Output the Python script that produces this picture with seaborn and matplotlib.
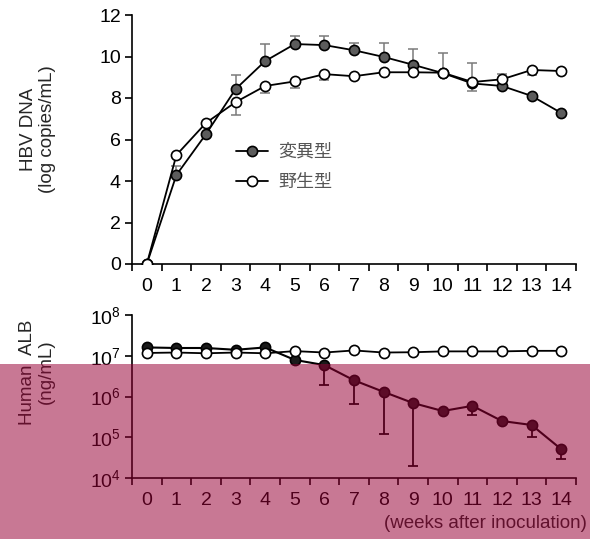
import numpy as np
import pandas as pd
import matplotlib
matplotlib.use("Agg")
import matplotlib.pyplot as plt
import seaborn as sns
from matplotlib.lines import Line2D
from matplotlib.patches import Rectangle
from matplotlib.ticker import NullLocator, FixedLocator

# ---------------- data ----------------
weeks = list(range(15))
series_names = ["変異型", "野生型"]

hbv_mut = [0.0, 4.29, 6.26, 8.43, 9.78, 10.6, 10.55, 10.3, 9.98, 9.6, 9.2, 8.7, 8.58, 8.1, 7.28]
hbv_mut_err = [0, 0.45, 0, 0.67, 0.8, 0.4, 0.45, 0.35, 0.67, 0.76, 0.95, 1.0, 0.6, 0, 0]
hbv_wt = [0.0, 5.25, 6.8, 7.8, 8.58, 8.8, 9.15, 9.05, 9.24, 9.24, 9.22, 8.77, 8.9, 9.35, 9.3]
hbv_wt_err = [0, 0, 0, 0.6, 0.35, 0.3, 0.3, 0, 0, 0, 0, 0.45, 0, 0.25, 0]

alb_mut = [1.6e7, 1.55e7, 1.55e7, 1.4e7, 1.6e7, 7.9e6, 5.9e6, 2.5e6, 1.3e6, 6.9e5, 4.4e5, 5.9e5, 2.5e5, 2.0e5, 5.1e4]
alb_mut_low = [1.6e7, 1.55e7, 1.55e7, 1.4e7, 1.6e7, 7.9e6, 1.9e6, 6.6e5, 1.2e5, 2.0e4, 4.4e5, 3.5e5, 2.5e5, 1.0e5, 2.9e4]
alb_wt = [1.17e7, 1.2e7, 1.15e7, 1.2e7, 1.15e7, 1.3e7, 1.2e7, 1.35e7, 1.2e7, 1.22e7, 1.28e7, 1.28e7, 1.28e7, 1.32e7, 1.32e7]

x_label = "(weeks after inoculation)"
top_ylabel = "HBV DNA\n(log copies/mL)"
bot_ylabel = "Human  ALB\n(ng/mL)"

# ---------------- style ----------------
sns.set_theme(style="ticks")
plt.rcParams["font.family"] = ["Liberation Sans", "Noto Sans CJK JP", "DejaVu Sans"]
plt.rcParams["font.size"] = 13
plt.rcParams["axes.linewidth"] = 1.2
plt.rcParams["xtick.major.width"] = 1.2
plt.rcParams["ytick.major.width"] = 1.2

W, H = 590, 539
fig = plt.figure(figsize=(W / 100, H / 100), dpi=100)
fig.patch.set_facecolor("white")

def px_axes(l, r, t, b):
    return fig.add_axes([l / W, 1 - b / H, (r - l) / W, (b - t) / H])

ax1 = px_axes(132, 576, 15, 264)
ax2 = px_axes(132, 576, 315, 478)

df_top = pd.DataFrame({
    "week": weeks * 2,
    "val": hbv_mut + hbv_wt,
    "grp": [series_names[0]] * 15 + [series_names[1]] * 15,
})
df_bot = pd.DataFrame({
    "week": weeks * 2,
    "val": alb_mut + alb_wt,
    "grp": [series_names[0]] * 15 + [series_names[1]] * 15,
})

mut_fill_top = "#5c5c5c"
mut_fill_bot = "#1a1a1a"
ms = 7.3
mew = 1.2
lw = 1.3
tick_fs = 14
text_fs = 13.5

# ---- top panel ----
ax1.errorbar(weeks, hbv_mut, yerr=[np.zeros(15), hbv_mut_err], fmt="none",
             ecolor="#7a7a7a", elinewidth=1.1, capsize=3.5, capthick=1.1, zorder=1)
ax1.errorbar(weeks, hbv_wt, yerr=[hbv_wt_err, np.zeros(15)], fmt="none",
             ecolor="#7a7a7a", elinewidth=1.1, capsize=3.5, capthick=1.1, zorder=1)
sns.lineplot(data=df_top[df_top.grp == series_names[0]], x="week", y="val", ax=ax1,
             color="black", lw=lw, marker="o", markersize=ms, markerfacecolor=mut_fill_top,
             markeredgecolor="black", markeredgewidth=mew, zorder=3, legend=False)
sns.lineplot(data=df_top[df_top.grp == series_names[1]], x="week", y="val", ax=ax1,
             color="black", lw=lw, marker="o", markersize=ms, markerfacecolor="white",
             markeredgecolor="black", markeredgewidth=mew, zorder=4, legend=False)
ax1.set_ylim(0, 12)
ax1.set_yticks([0, 2, 4, 6, 8, 10, 12])

# ---- bottom panel ----
ax2.errorbar(weeks, alb_mut, yerr=[np.array(alb_mut) - np.array(alb_mut_low), np.zeros(15)],
             fmt="none", ecolor="black", elinewidth=1.3, capsize=3.5, capthick=1.3, zorder=1)
sns.lineplot(data=df_bot[df_bot.grp == series_names[0]], x="week", y="val", ax=ax2,
             color="black", lw=1.5, marker="o", markersize=ms, markerfacecolor=mut_fill_bot,
             markeredgecolor="black", markeredgewidth=mew, zorder=3, legend=False)
sns.lineplot(data=df_bot[df_bot.grp == series_names[1]], x="week", y="val", ax=ax2,
             color="black", lw=lw, marker="o", markersize=ms, markerfacecolor="white",
             markeredgecolor="black", markeredgewidth=mew, zorder=4, legend=False)
ax2.set_yscale("log")
ax2.set_ylim(1e4, 1e8)
ax2.yaxis.set_major_locator(FixedLocator([1e4, 1e5, 1e6, 1e7, 1e8]))
ax2.yaxis.set_minor_locator(NullLocator())

for ax in (ax1, ax2):
    ax.set_xlim(-0.5, 14.5)
    ax.set_xticks(np.arange(-0.5, 15, 1))
    ax.set_xticklabels([])
    ax.set_xticks(weeks, minor=True)
    ax.set_xticklabels([str(w) for w in weeks], minor=True)
    ax.tick_params(axis="x", which="major", length=5, direction="out", color="black")
    ax.tick_params(axis="x", which="minor", length=0, pad=10, labelsize=tick_fs, labelcolor="black")
    ax.tick_params(axis="y", which="major", length=5, direction="out", labelsize=tick_fs,
                   labelcolor="black", color="black", pad=3)
    ax.set_xlabel("")
    ax.set_ylabel("")
    for s in ("top", "right"):
        ax.spines[s].set_visible(False)
    for s in ("left", "bottom"):
        ax.spines[s].set_color("black")
    ax.patch.set_alpha(0)

# legend
handles = [
    Line2D([], [], color="black", lw=lw, marker="o", markersize=ms,
           markerfacecolor=mut_fill_top, markeredgecolor="black", markeredgewidth=mew),
    Line2D([], [], color="black", lw=lw, marker="o", markersize=ms,
           markerfacecolor="white", markeredgecolor="black", markeredgewidth=mew),
]
leg = ax1.legend(handles, series_names, loc="upper left",
                 bbox_to_anchor=(236 / W, 1 - 143 / H), bbox_transform=fig.transFigure,
                 frameon=False, borderpad=0, borderaxespad=0, handlelength=1.75,
                 handletextpad=0.6, labelspacing=0.68,
                 prop={"family": ["Noto Sans CJK JP"], "size": 13})
for t in leg.get_texts():
    t.set_color("#555555")

# labels
fig.text(38 / W, 1 - 129 / H, top_ylabel, rotation=90, ha="center", va="center",
         fontsize=text_fs, linespacing=1.15)
fig.text(37 / W, 1 - 372 / H, bot_ylabel, rotation=90, ha="center", va="center",
         fontsize=text_fs, linespacing=1.15)
fig.text(587 / W, 1 - 524 / H, x_label, ha="right", va="center", fontsize=text_fs)

# semi-transparent overlay present in the reference image
fig.patches.append(Rectangle((0, 0), 1, 1 - 364 / H, transform=fig.transFigure,
                             facecolor="#970035", alpha=0.53, edgecolor="none", zorder=100))

fig.savefig("out.png", dpi=100)
